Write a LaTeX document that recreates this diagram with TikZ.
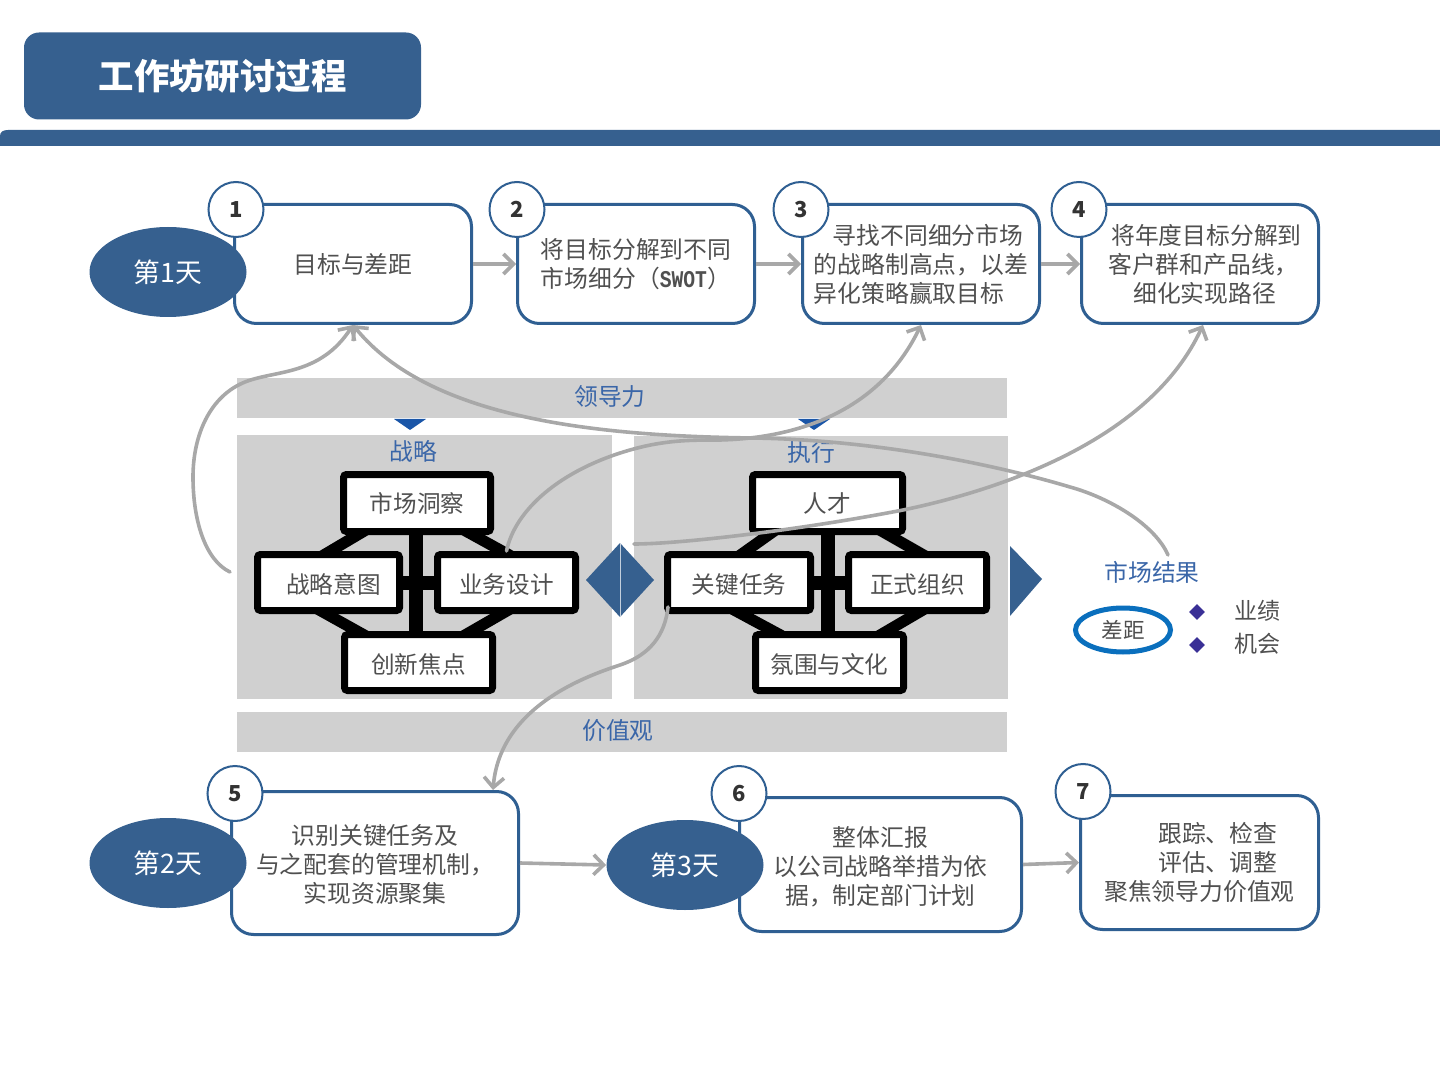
\documentclass[tikz,border=0pt]{standalone}
\usepackage{fontspec}
\setmainfont{Noto Sans CJK SC}
\newfontfamily\swotfont[FakeStretch=0.82]{Liberation Mono}
\usetikzlibrary{arrows.meta,shapes.geometric,calc}
\pgfdeclarelayer{backdrop}
\pgfdeclarelayer{links}
\pgfsetlayers{backdrop,links,main}
\definecolor{navy}{HTML}{36608F}
\definecolor{edgeblue}{HTML}{2F5F92}
\definecolor{panelgrey}{HTML}{D0D0D0}
\definecolor{flowgrey}{HTML}{A8A8A8}
\definecolor{labelblue}{HTML}{3A66A8}
\definecolor{bodytext}{HTML}{505050}
\definecolor{tipblue}{HTML}{1A56A8}
\definecolor{gapblue}{HTML}{0A6FBD}
\definecolor{markviolet}{HTML}{3A3096}
\newcommand\lowtext[1]{\raisebox{-1pt}[10pt][1pt]{#1}}
\tikzset{
  stepbox/.style={draw=edgeblue,line width=1.5pt,fill=white,rounded corners=11pt,align=left,text=bodytext,
    font=\fontsize{11.9}{14.5}\selectfont,inner sep=0pt},
  numdisc/.style={circle,draw=edgeblue,line width=1pt,fill=white,minimum size=27.5pt,inner sep=0pt,
    font=\fontsize{11}{13}\bfseries\selectfont,text=black!80},
  dayoval/.style={ellipse,fill=navy,minimum width=78.5pt,minimum height=45pt,inner sep=0pt,text=white,
    font=\fontsize{13.4}{15}\selectfont},
  band/.style={fill=panelgrey,inner sep=0pt},
  panel/.style={fill=panelgrey,inner sep=0pt},
  headlabel/.style={text=labelblue,inner sep=0pt,font=\fontsize{11.9}{14}\selectfont},
  blackbox/.style={draw=black,line width=3.5pt,fill=white,rounded corners=1.5pt,inner sep=0pt,text=bodytext,
    minimum height=28pt,font=\fontsize{11.8}{14}\selectfont},
  link/.style={draw=black,line width=7pt,line cap=butt},
  diag/.style={draw=black,line width=5.6pt,line cap=butt,shorten <=-5pt,shorten >=-5pt},
  flow/.style={draw=flowgrey,line width=1.8pt,-{Straight Barb[length=5pt,width=10pt,line width=1.8pt]}},
  curveflow/.style={flow,line cap=round},
  plainlabel/.style={text=bodytext,inner sep=0pt,font=\fontsize{11.5}{14}\selectfont},
  marker/.style={diamond,fill=markviolet,minimum size=8pt,inner sep=0pt},
}
\begin{document}
\begin{tikzpicture}[x=0.5pt,y=-0.5pt]
\useasboundingbox (0,0) rectangle (1440,1080);
% header
\node[fill=navy,rounded corners=7.5pt,minimum width=198.5pt,minimum height=43.5pt,inner sep=0pt,text=white,
  font=\fontsize{17.7}{20}\bfseries\selectfont] (title) at (222.5,76) {工作坊研讨过程};
\fill[navy] (0,146) -- (0,136) .. controls (0,132) and (3,130) .. (8,130) -- (1440,130) -- (1440,146) -- cycle;
% bands and panels
\begin{pgfonlayer}{backdrop}
\node[band,minimum width=385pt,minimum height=20pt] (lead) at (622,398) {};
\node[band,minimum width=385pt,minimum height=20pt] (value) at (622,731.5) {};
\node[panel,minimum width=187.5pt,minimum height=132pt] (left) at (424.5,567) {};
\node[panel,minimum width=187pt,minimum height=131.5pt] (right) at (821,567.5) {};
\end{pgfonlayer}
\node[headlabel] (leadtxt) at (610,396) {领导力};
\node[headlabel] (valuetxt) at (618,731) {价值观};
\fill[tipblue] (394,419) -- (426,419) -- (410,430) -- cycle;
\fill[tipblue] (798,419) -- (830,419) -- (814,430) -- cycle;
\node[headlabel] (strat) at (413,451) {战略};
\node[headlabel] (exec) at (811,452) {执行};
% diamond and triangle
\fill[navy] (586,580) -- (620,543) -- (654,580) -- (620,617) -- cycle;
\draw[white!70!navy,line width=.4pt] (620,543) -- (620,617);
\fill[navy] (1010,546) -- (1042,579) -- (1010,616) -- cycle;
% inner boxes (left)
\node[blackbox,minimum width=73.5pt,minimum height=28.5pt] (market) at (417,503) {市场洞察};
\node[blackbox,minimum width=71pt] (intent) at (328.5,582.5) {\hspace{5pt}\lowtext{战略意图}};
\node[blackbox,minimum width=69pt] (design) at (506.5,582.5) {\lowtext{业务设计}};
\node[blackbox,minimum width=74pt] (focus) at (418.5,662.5) {\lowtext{创新焦点}};
% inner boxes (right)
\node[blackbox,minimum width=75pt,minimum height=28.5pt] (talent) at (827.5,503) {人才};
\node[blackbox,minimum width=71.5pt] (task) at (739,582.5) {\lowtext{关键任务}};
\node[blackbox,minimum width=69pt] (org) at (917.5,582.5) {\lowtext{正式组织}};
\node[blackbox,minimum width=74pt] (culture) at (829.5,662.5) {\lowtext{氛围与文化}};
% black links, behind the boxes
\begin{pgfonlayer}{links}
\draw[link] ($(market.south)+(-1,0)$) -- ($(focus.north)+(-2.5,0)$);
\draw[link] (intent.east) -- (design.west);
\draw[diag] ($(market.south west)+(17.5,0)$) -- ($(intent.north)+(2,0)$);
\draw[diag] ($(market.south east)+(-21,0)$) -- ($(design.north)+(-4.5,0)$);
\draw[diag] ($(intent.south)+(-2,0)$) -- ($(focus.north west)+(16,0)$);
\draw[diag] ($(design.south)+(-5,0)$) -- ($(focus.north east)+(-24,0)$);
\draw[link] ($(talent.south)+(.5,0)$) -- ($(culture.north)+(-1.5,0)$);
\draw[link] (task.east) -- (org.west);
\draw[diag] ($(talent.south west)+(19.5,0)$) -- ($(task.north)+(7,0)$);
\draw[diag] ($(talent.south east)+(-17.5,0)$) -- ($(org.north)+(-1,0)$);
\draw[diag] ($(task.south)+(2.5,0)$) -- ($(culture.north west)+(21,0)$);
\draw[diag] ($(org.south)+(-1.5,0)$) -- ($(culture.north east)+(-20,0)$);
\end{pgfonlayer}
% step boxes
\node[stepbox,minimum width=118.5pt,minimum height=59.5pt] (s1) at (353,264) {目标与差距};
\node[stepbox,minimum width=118.5pt,minimum height=59.5pt] (s2) at (636,264) {将目标分解到不同\\市场细分（{\swotfont\bfseries\fontsize{12}{14}\selectfont SWOT}）};
\node[stepbox,minimum width=118.5pt,minimum height=59.5pt] (s3) at (921,264) {\hspace*{9.5pt}寻找不同细分市场\\的战略制高点，以差\\异化策略赢取目标};
\node[stepbox,minimum width=118.5pt,minimum height=59.5pt] (s4) at (1200,264) {\hspace*{6.5pt}将年度目标分解到\\\hspace*{5pt}客户群和产品线，\\\hspace*{17.5pt}细化实现路径};
\node[stepbox,align=center,minimum width=143.5pt,minimum height=71.5pt] (s5) at (375,863) {\rule{0pt}{12pt}识别关键任务及\\与之配套的管理机制，\\实现资源聚集};
\node[stepbox,align=center,minimum width=141pt,minimum height=67pt] (s6) at (880.5,864.5) {\rule{0pt}{12.5pt}整体汇报\\以公司战略举措为依\\据，制定部门计划};
\node[stepbox,minimum width=119pt,minimum height=67pt] (s7) at (1199.5,862.5) {\hspace*{27pt}跟踪、检查\\\hspace*{27pt}评估、调整\\聚焦领导力价值观};
% day ovals
\node[dayoval] (d1) at (168,272) {第1天};
\node[dayoval] (d2) at (168,863) {第2天};
\node[dayoval] (d3) at (685,865) {第3天};
% number discs
\node[numdisc] (n1) at (236,209.5) {1};
\node[numdisc] (n2) at (517,209.5) {2};
\node[numdisc] (n3) at (801,209.5) {3};
\node[numdisc] (n4) at (1079,209.5) {4};
\node[numdisc] (n5) at (235,793.5) {5};
\node[numdisc] (n6) at (739,793.5) {6};
\node[numdisc] (n7) at (1083,791.5) {7};
% market result
\node[headlabel] (result) at (1152,572) {市场结果};
\node[ellipse,draw=gapblue,line width=2.5pt,minimum width=47.5pt,minimum height=22pt,inner sep=0pt,text=bodytext,
  font=\fontsize{10.8}{13}\selectfont] (gap) at (1123,630) {差距};
\node[marker] (m1) at (1197,612) {};
\node[marker] (m2) at (1197,645) {};
\node[plainlabel] (perf) at (1257,611) {业绩};
\node[plainlabel] (chance) at (1257,644) {机会};
% free ends
\coordinate (a0) at (230,572);
\coordinate (b0) at (1168,555);
\coordinate (d0) at (634,544);
\coordinate (e0) at (668,607);
% straight flows
\draw[flow] (s1.east) -- (s2.west);
\draw[flow] (s2.east) -- (s3.west);
\draw[flow] (s3.east) -- (s4.west);
\draw[flow] (s5.east) -- (d3.west);
\draw[flow] (s6.east) -- (s7.west);
% curved flows
\draw[curveflow] (a0) .. controls (205,560) and (193,520) .. (193,477) .. controls (193,435) and (210,396) .. (245,382) .. controls (275,370) and (320,376) .. (s1.south);
\draw[curveflow] (b0) .. controls (1155,525) and (1110,498) .. (1070,487) .. controls (1000,466) and (880,440) .. (753,438) .. controls (600,436) and (430,420) .. (s1.south);
\draw[curveflow] (design.north) .. controls (515,510) and (560,470) .. (630,450) .. controls (665,440) and (690,440) .. (720,440) .. controls (800,438) and (880,410) .. (s3.south);
\draw[curveflow] (d0) .. controls (680,544) and (800,530) .. (903,510) .. controls (1000,490) and (1150,440) .. ($(s4.south)+(3,0)$);
\draw[curveflow] (e0) .. controls (665,635) and (650,655) .. (620,665) .. controls (590,675) and (500,705) .. ($(s5.north)+(118,0)$);
\end{tikzpicture}
\end{document}
